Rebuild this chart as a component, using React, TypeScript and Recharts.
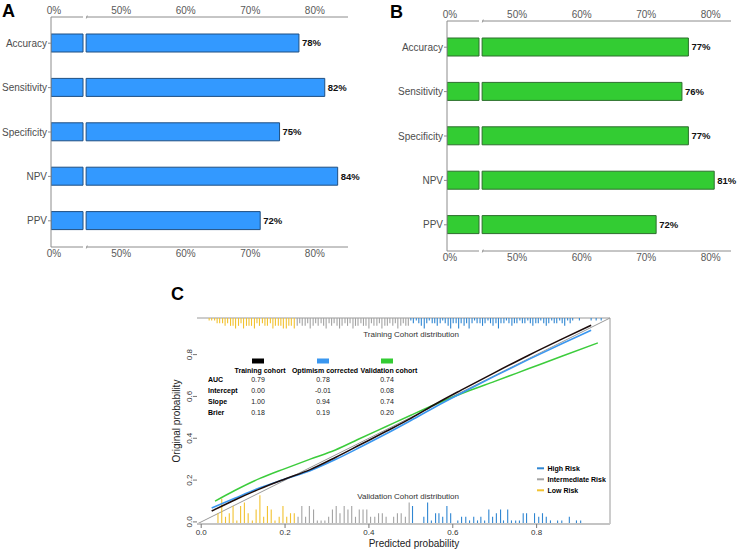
import React from "react";
import {
  BarChart,
  Bar,
  XAxis,
  YAxis,
  LabelList,
  ReferenceLine,
  ComposedChart,
  Line,
  Scatter,
  ErrorBar,
} from "recharts";

const FONT = '"Liberation Sans", Arial, sans-serif';

// Panels A / B
const metrics = ["Accuracy", "Sensitivity", "Specificity", "NPV", "PPV"];
const trainingPct = [78, 82, 75, 84, 72];
const validationPct = [77, 76, 77, 81, 72];
const pctTicks = [0, 50, 60, 70, 80];

// Panel C: calibration curves
const trainingX = [0.025, 0.08, 0.14, 0.2, 0.26, 0.32, 0.38, 0.44, 0.5, 0.56, 0.62, 0.7, 0.78, 0.86, 0.93];
const trainingY = [0.052, 0.105, 0.158, 0.205, 0.25, 0.308, 0.37, 0.432, 0.495, 0.565, 0.63, 0.714, 0.796, 0.874, 0.94];
const optimismY = [0.066, 0.113, 0.163, 0.205, 0.245, 0.298, 0.358, 0.42, 0.485, 0.552, 0.615, 0.697, 0.776, 0.852, 0.916];
const validationX = [0.033, 0.08, 0.14, 0.2, 0.26, 0.32, 0.38, 0.44, 0.5, 0.57, 0.64, 0.7, 0.78, 0.86, 0.946];
const validationY = [0.099, 0.15, 0.208, 0.255, 0.3, 0.344, 0.4, 0.455, 0.51, 0.572, 0.628, 0.672, 0.732, 0.792, 0.856];
const probTicks = [0, 0.2, 0.4, 0.6, 0.8];

// table
const statRows = ["AUC", "Intercept", "Slope", "Brier"];
const cohortNames = ["Training cohort", "Optimism corrected", "Validation cohort"];
const trainingStats = [0.79, 0.0, 1.0, 0.18];
const optimismStats = [0.78, -0.01, 0.94, 0.19];
const validationStats = [0.74, 0.08, 0.74, 0.2];

// rug: training cohort (top), predicted prob + frequency
const trainLowX = [0.019, 0.025, 0.032, 0.038, 0.044, 0.051, 0.057, 0.063, 0.07, 0.076, 0.082, 0.089, 0.095, 0.101, 0.108, 0.114, 0.12, 0.127, 0.133, 0.139, 0.146, 0.152, 0.158, 0.165, 0.171, 0.177, 0.184, 0.19, 0.196, 0.203, 0.209, 0.215, 0.222];
const trainLowN = [1, 1, 1, 2, 2, 2, 3, 2, 3, 3, 4, 3, 2, 4, 3, 3, 3, 4, 2, 3, 2, 3, 3, 2, 4, 3, 3, 3, 4, 4, 3, 3, 4];
const trainMidX = [0.229, 0.235, 0.241, 0.248, 0.254, 0.26, 0.267, 0.273, 0.279, 0.286, 0.292, 0.298, 0.305, 0.311, 0.317, 0.324, 0.33, 0.336, 0.343, 0.349, 0.355, 0.362, 0.368, 0.374, 0.381, 0.387, 0.393, 0.4, 0.406, 0.412, 0.419, 0.425, 0.431, 0.438, 0.444, 0.45, 0.457, 0.463, 0.469, 0.476, 0.482, 0.488, 0.494];
const trainMidN = [3, 2, 3, 3, 2, 4, 3, 2, 3, 2, 3, 4, 2, 3, 2, 3, 4, 3, 2, 3, 2, 4, 3, 3, 2, 3, 3, 4, 2, 3, 3, 2, 4, 3, 3, 2, 3, 2, 4, 3, 2, 3, 3];
const trainHighX = [0.5, 0.506, 0.513, 0.519, 0.525, 0.532, 0.538, 0.544, 0.551, 0.557, 0.563, 0.57, 0.576, 0.582, 0.589, 0.595, 0.601, 0.608, 0.614, 0.62, 0.627, 0.633, 0.639, 0.646, 0.652, 0.658, 0.665, 0.671, 0.677, 0.684, 0.69, 0.696, 0.703, 0.709, 0.715, 0.722, 0.728, 0.734, 0.741, 0.747, 0.753, 0.76, 0.766, 0.772, 0.779, 0.785, 0.791, 0.798, 0.804, 0.81, 0.817, 0.823, 0.829, 0.836, 0.842, 0.848, 0.855, 0.861, 0.867, 0.874, 0.88, 0.886, 0.902, 0.93, 0.942, 0.954];
const trainHighN = [1, 2, 1, 2, 3, 4, 2, 1, 2, 2, 3, 2, 1, 2, 3, 4, 2, 2, 4, 2, 3, 2, 4, 2, 1, 2, 2, 3, 2, 1, 2, 3, 2, 4, 2, 2, 1, 2, 3, 2, 2, 1, 2, 2, 1, 2, 3, 2, 2, 1, 2, 3, 2, 1, 2, 2, 1, 2, 3, 1, 2, 1, 1, 1, 1, 1];

// rug: validation cohort (bottom)
const valLowX = [0.04, 0.049, 0.058, 0.067, 0.076, 0.085, 0.094, 0.103, 0.112, 0.122, 0.131, 0.14, 0.149, 0.158, 0.167, 0.176, 0.186, 0.195, 0.204, 0.213, 0.222];
const valLowN = [3, 7, 2, 3, 5, 1, 5, 6, 3, 1, 4, 8, 2, 5, 4, 1, 2, 5, 2, 3, 3];
const valMidX = [0.231, 0.24, 0.249, 0.258, 0.268, 0.277, 0.286, 0.295, 0.304, 0.313, 0.322, 0.331, 0.341, 0.35, 0.359, 0.368, 0.377, 0.386, 0.395, 0.404, 0.414, 0.423, 0.432, 0.441, 0.459, 0.468, 0.477, 0.487, 0.496];
const valMidN = [2, 5, 2, 5, 4, 1, 1, 1, 2, 4, 5, 3, 5, 4, 5, 2, 4, 4, 4, 2, 2, 3, 3, 2, 2, 3, 3, 2, 6];
const valHighX = [0.504, 0.531, 0.54, 0.549, 0.559, 0.567, 0.576, 0.586, 0.595, 0.612, 0.621, 0.631, 0.64, 0.65, 0.659, 0.667, 0.676, 0.686, 0.695, 0.704, 0.714, 0.721, 0.731, 0.74, 0.75, 0.759, 0.768, 0.776, 0.795, 0.805, 0.814, 0.823, 0.833, 0.85, 0.86, 0.878, 0.895, 0.905];
const valHighN = [5, 2, 6, 1, 3, 3, 2, 5, 3, 1, 2, 2, 1, 2, 1, 2, 1, 4, 2, 3, 4, 1, 4, 1, 1, 1, 3, 3, 3, 2, 3, 2, 1, 1, 1, 2, 1, 1];

const riskLevels = ["High Risk", "Intermediate Risk", "Low Risk"];
const RISK_COLORS = ["#2f86d2", "#a3a3a3", "#f2c230"];

// broken axis (0-5% | 45%-...), drawn on a continuous "t" scale
const LOW_END = 4.96;
const GAP = 0.48;
const SHIFT = 39.6;
const toT = (v: number) => (v <= 5 ? v : v - SHIFT);
const fromT = (t: number) => (t <= 5 ? t : t + SHIFT);

const DOMAIN: [number, number] = [-0.01, 0.975];
const TOP_RUG_UNIT = 0.0125;
const BOTTOM_RUG_UNIT = 0.0172;

// panel geometry (plot left, plot width in px, t-domain, top axis y)
const PANEL_A = { left: 0, top: 0, width: 370, yAxisWidth: 51, domainMax: 46, marginRight: 22 };
const PANEL_B = { left: 370, top: 4, width: 368, yAxisWidth: 77, domainMax: 44, marginRight: 7 };

function MetricBars({ values, fill, stroke, panel }: any) {
  const rows = metrics.map((name, i) => {
    const t = toT(values[i]);
    return { name, value: values[i], low: Math.min(t, LOW_END), gap: GAP, high: t - LOW_END - GAP };
  });
  const ticks = pctTicks.map(toT);
  const axis = {
    type: "number" as const,
    domain: [0, panel.domainMax],
    ticks,
    interval: 0,
    allowDataOverflow: true,
    tickFormatter: (t: number) => `${Math.round(fromT(t))}%`,
    tickLine: false,
    axisLine: { stroke: "#8c8c8c" },
    tick: { fill: "#5a5a5a", fontSize: 10, dx: 3 },
  };
  return (
    <BarChart
      layout="vertical"
      width={panel.width}
      height={270}
      data={rows}
      barSize={18}
      margin={{ top: 0, right: panel.marginRight, bottom: 0, left: 0 }}
    >
      <XAxis xAxisId="top" orientation="top" height={17} tickSize={0} tickMargin={3} {...axis} />
      <XAxis xAxisId="bottom" orientation="bottom" height={23} tickSize={0} tickMargin={3} {...axis} />
      <YAxis
        type="category"
        dataKey="name"
        width={panel.yAxisWidth}
        tickSize={3}
        tickMargin={1}
        padding={{ top: 4, bottom: 4 }}
        tick={{ fill: "#4d4d4d", fontSize: 10 }}
        axisLine={{ stroke: "#8c8c8c" }}
        tickLine={{ stroke: "#8c8c8c" }}
      />
      <Bar xAxisId="bottom" dataKey="low" stackId="s" fill={fill} stroke={stroke} isAnimationActive={false} />
      <Bar xAxisId="bottom" dataKey="gap" stackId="s" fill="none" stroke="none" isAnimationActive={false} />
      <Bar xAxisId="bottom" dataKey="high" stackId="s" fill={fill} stroke={stroke} isAnimationActive={false}>
        <LabelList
          dataKey="value"
          position="right"
          offset={3}
          formatter={(v: any) => `${v}%`}
          fill="#111"
          fontSize={9.5}
          fontWeight={700}
        />
      </Bar>
    </BarChart>
  );
}

// white notch + slash where the broken x axis jumps from 5% to 45%
function AxisBreaks({ panel }: any) {
  const plotLeft = panel.left + panel.yAxisWidth;
  const plotWidth = panel.width - panel.yAxisWidth - panel.marginRight;
  const px = plotWidth / panel.domainMax;
  const x0 = plotLeft + LOW_END * px;
  const x1 = plotLeft + (LOW_END + GAP) * px;
  const ys = [panel.top + 17, panel.top + 247];
  return (
    <g>
      {ys.map((y) => (
        <g key={y}>
          <rect x={x0} y={y - 2} width={x1 - x0} height={4} fill="#fff" />
          <line x1={x1 + 0.2} y1={y + 1.5} x2={x1 + 1.2} y2={y - 1.5} stroke="#8c8c8c" strokeWidth={0.8} />
        </g>
      ))}
    </g>
  );
}

function RotatedTick({ x, y, payload }: any) {
  return (
    <text x={x} y={y} transform={`rotate(-90 ${x} ${y})`} textAnchor="middle" fontSize={8} fill="#333">
      {Number(payload.value).toFixed(1)}
    </text>
  );
}

function rug(xs: number[], ns: number[], top: boolean, unit: number) {
  return xs.map((x, i) => ({
    x,
    y: top ? DOMAIN[1] : DOMAIN[0],
    err: top ? [ns[i] * unit, 0] : [0, ns[i] * unit],
  }));
}

function CalibrationPlot() {
  const training = trainingX.map((x, i) => ({ x, y: trainingY[i] }));
  const optimism = trainingX.map((x, i) => ({ x, y: optimismY[i] }));
  const validation = validationX.map((x, i) => ({ x, y: validationY[i] }));
  const rugs = [
    { data: rug(trainLowX, trainLowN, true, TOP_RUG_UNIT), color: RISK_COLORS[2] },
    { data: rug(trainMidX, trainMidN, true, TOP_RUG_UNIT), color: RISK_COLORS[1] },
    { data: rug(trainHighX, trainHighN, true, TOP_RUG_UNIT), color: RISK_COLORS[0] },
    { data: rug(valLowX, valLowN, false, BOTTOM_RUG_UNIT), color: RISK_COLORS[2] },
    { data: rug(valMidX, valMidN, false, BOTTOM_RUG_UNIT), color: RISK_COLORS[1] },
    { data: rug(valHighX, valHighN, false, BOTTOM_RUG_UNIT), color: RISK_COLORS[0] },
  ];
  const [lo, hi] = DOMAIN;
  return (
    <ComposedChart width={470} height={271} margin={{ top: 38, right: 10, bottom: 0, left: 0 }}>
      <XAxis
        xAxisId="b"
        type="number"
        dataKey="x"
        domain={DOMAIN}
        ticks={probTicks}
        interval={0}
        allowDataOverflow
        tickFormatter={(v: number) => v.toFixed(1)}
        height={27}
        tickSize={4}
        tickMargin={1}
        axisLine={{ stroke: "#c4c4c4", strokeWidth: 2 }}
        tickLine={{ stroke: "#777" }}
        tick={{ fontSize: 8, fill: "#333" }}
      />
      <YAxis
        yAxisId="l"
        type="number"
        dataKey="y"
        domain={DOMAIN}
        ticks={probTicks}
        interval={0}
        allowDataOverflow
        width={47}
        tickSize={4}
        tickMargin={1}
        tick={<RotatedTick />}
        axisLine={false}
        tickLine={{ stroke: "#777" }}
      />
      {/* frame: top and right edges, ideal diagonal */}
      <ReferenceLine xAxisId="b" yAxisId="l" segment={[{ x: lo, y: hi }, { x: hi, y: hi }]} stroke="#9a9a9a" />
      <ReferenceLine xAxisId="b" yAxisId="l" segment={[{ x: hi, y: lo }, { x: hi, y: hi }]} stroke="#9a9a9a" />
      <ReferenceLine xAxisId="b" yAxisId="l" segment={[{ x: lo, y: lo }, { x: hi, y: hi }]} stroke="#999" />
      {rugs.map((r, i) => (
        <Scatter
          key={i}
          xAxisId="b"
          yAxisId="l"
          data={r.data}
          dataKey="y"
          shape={() => <g />}
          isAnimationActive={false}
        >
          <ErrorBar dataKey="err" direction="y" width={0} stroke={r.color} strokeWidth={1.1} isAnimationActive={false} />
        </Scatter>
      ))}
      <Line xAxisId="b" yAxisId="l" data={validation} dataKey="y" type="monotone" stroke="#3ccc3c" strokeWidth={1.5} dot={false} isAnimationActive={false} />
      <Line xAxisId="b" yAxisId="l" data={optimism} dataKey="y" type="monotone" stroke="#3a97f0" strokeWidth={1.6} dot={false} isAnimationActive={false} />
      <Line xAxisId="b" yAxisId="l" data={training} dataKey="y" type="monotone" stroke="#1c0c0c" strokeWidth={1.6} dot={false} isAnimationActive={false} />
    </ComposedChart>
  );
}

const swatchColors = ["#000", "#3a97f0", "#33cc33"];
const headerX = [260, 325, 389];
const valueX = [258, 323, 387];
const rowY = [381.8, 392.8, 403.5, 414.8];

function Annotations() {
  const cols = [trainingStats, optimismStats, validationStats];
  return (
    <svg width={738} height={551} style={{ position: "absolute", left: 0, top: 0, pointerEvents: "none" }} fontFamily={FONT}>
      <AxisBreaks panel={PANEL_A} />
      <AxisBreaks panel={PANEL_B} />

      <text x={2} y={17} fontSize={18} fontWeight={700}>A</text>
      <text x={390} y={18} fontSize={18} fontWeight={700}>B</text>
      <text x={171} y={300} fontSize={18} fontWeight={700}>C</text>

      {cohortNames.map((name, i) => (
        <g key={name}>
          <rect x={valueX[i] - 6} y={358.5} width={12} height={5} fill={swatchColors[i]} />
          <text x={headerX[i]} y={372.5} fontSize={7} fontWeight={700} textAnchor="middle">{name}</text>
          {statRows.map((_, r) => (
            <text key={r} x={valueX[i]} y={rowY[r]} fontSize={7} textAnchor="middle" fill="#222">
              {cols[i][r].toFixed(2)}
            </text>
          ))}
        </g>
      ))}
      {statRows.map((row, r) => (
        <text key={row} x={208} y={rowY[r]} fontSize={7} fontWeight={700}>{row}</text>
      ))}

      <text x={459} y={337} fontSize={8} textAnchor="end" fill="#333">Training Cohort distribution</text>
      <text x={459} y={499} fontSize={8} textAnchor="end" fill="#333">Validation Cohort distribution</text>

      {riskLevels.map((lvl, i) => (
        <g key={lvl}>
          <line x1={537} x2={544} y1={468.3 + i * 11} y2={468.3 + i * 11} stroke={RISK_COLORS[i]} strokeWidth={2} />
          <text x={547.5} y={470.8 + i * 11} fontSize={7} fontWeight={700}>{lvl}</text>
        </g>
      ))}

      <text x={414} y={547} fontSize={10} textAnchor="middle" fill="#222">Predicted probability</text>
      <text x={180} y={421} fontSize={10} textAnchor="middle" fill="#222" transform="rotate(-90 180 421)">
        Original probability
      </text>
    </svg>
  );
}

export default function App() {
  return (
    <div style={{ position: "absolute", left: 0, top: 0, width: 738, height: 551, background: "#fff", fontFamily: FONT }}>
      <div style={{ position: "absolute", left: PANEL_A.left, top: PANEL_A.top }}>
        <MetricBars values={trainingPct} fill="#3399ff" stroke="#1f4f82" panel={PANEL_A} />
      </div>
      <div style={{ position: "absolute", left: PANEL_B.left, top: PANEL_B.top }}>
        <MetricBars values={validationPct} fill="#33cc33" stroke="#2d6e2d" panel={PANEL_B} />
      </div>
      <div style={{ position: "absolute", left: 150, top: 280 }}>
        <CalibrationPlot />
      </div>
      <Annotations />
    </div>
  );
}
